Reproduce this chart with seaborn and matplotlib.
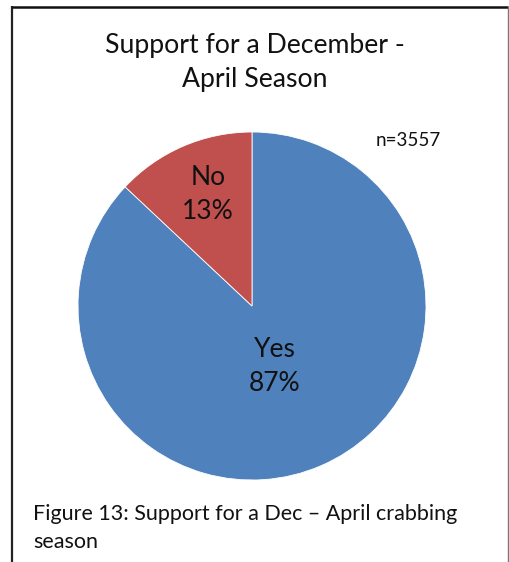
import numpy as np
import matplotlib
matplotlib.use("Agg")
import matplotlib.pyplot as plt
import seaborn as sns

# Survey results
categories = ["Yes", "No"]
shares = [87, 13]
sample_label = "n=3557"
title_text = "Support for a December -\nApril Season"
caption_text = "Figure 13: Support for a Dec \u2013 April crabbing\nseason"

sns.set_theme(style="white")
plt.rcParams["font.family"] = ["Lato", "DejaVu Sans"]

palette = sns.color_palette(["#4F81BD", "#C0504D"])

W, H = 510, 562
fig = plt.figure(figsize=(W / 100, H / 100), dpi=100)
fig.patch.set_facecolor("white")

# frame around the chart
frame = fig.add_axes([0, 0, 1, 1])
frame.set_xlim(0, W)
frame.set_ylim(H, 0)
frame.axis("off")
frame.plot([12, 12], [6, H], color="#222222", lw=1.6, solid_capstyle="butt")
frame.plot([12, 508.5], [6.5, 6.5], color="#111111", lw=1.8, solid_capstyle="butt")
frame.plot([508.5, 508.5], [6, H], color="#777777", lw=1.0, solid_capstyle="butt")

frame.text(255, 62, title_text, ha="center", va="center", fontsize=19.2,
           color="#111111", linespacing=1.45)
frame.text(408, 141, sample_label, ha="center", va="center", fontsize=13.5,
           color="#111111")
frame.text(33, 528, caption_text, ha="left", va="center", fontsize=15.5,
           color="#111111", linespacing=1.5)

# pie
cx, cy, r = 252, 306, 174
ax = fig.add_axes([(cx - r) / W, (H - cy - r) / H, 2 * r / W, 2 * r / H])
wedges, _ = ax.pie(shares, colors=palette, startangle=90, counterclock=False,
                   radius=1.0, wedgeprops=dict(linewidth=0.6, edgecolor="white"))
ax.set_xlim(-1, 1)
ax.set_ylim(-1, 1)
ax.set_aspect("equal")

label_dist = {"Yes": 0.38, "No": 0.70}
label_shift = {"Yes": -0.02, "No": 0.025}
for w, name, val in zip(wedges, categories, shares):
    mid = np.deg2rad((w.theta1 + w.theta2) / 2)
    d = label_dist[name]
    ax.text(d * np.cos(mid) + label_shift[name], d * np.sin(mid),
            f"{name}\n{val}%", ha="center", va="center", fontsize=19,
            color="#111111", linespacing=1.45)

fig.savefig("out.png", dpi=100, facecolor="white")
